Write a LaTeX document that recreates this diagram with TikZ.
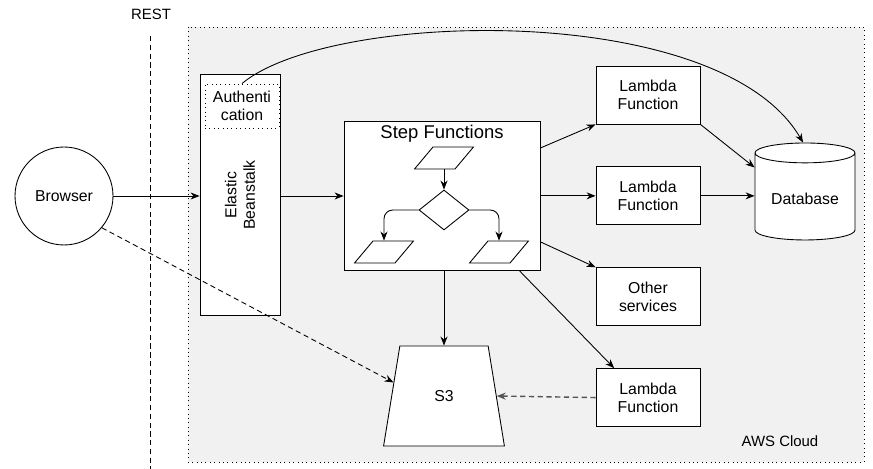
\documentclass[tikz,border=0pt]{standalone}
\usepackage{fontspec}
\setmainfont{Liberation Sans}
\usetikzlibrary{positioning, arrows.meta, shapes.geometric}

\begin{document}
\begin{tikzpicture}[x=0.02cm, y=-0.02cm, line width=0.5pt,
font=\fontsize{9}{10.5}\selectfont,
box/.style={draw, fill=white, minimum width=2.08cm, minimum height=1.16cm, align=center, inner sep=1pt},
para/.style={draw, fill=white, trapezium, trapezium left angle=50, trapezium right angle=130, minimum width=1.18cm, minimum height=0.3cm, inner sep=0.5pt},
arrow/.style={-{Stealth[length=1.8mm, width=1.4mm]}},
dasharrow/.style={arrow, dash pattern=on 3pt off 2pt} ]

% Define colors
\definecolor{cloudgray}{RGB}{241, 241, 241}
\definecolor{dashgray}{RGB}{85, 85, 85}

\useasboundingbox (0,0) rectangle (873,469);

% Cloud area and REST line
\draw[dotted, fill=cloudgray] (188,27) rectangle (864,462);
\node[font=\fontsize{8.5}{10}\selectfont] (cloudlabel) at (780,441) {AWS Cloud};
\node[font=\fontsize{8.5}{10}\selectfont] (rest) at (151,14) {REST};
\draw[dash pattern=on 3pt off 2pt] (150,36) -- (150,469);

% Nodes
\node[circle, draw, fill=white, minimum size=1.96cm] (browser) at (64,196) {Browser};
\node[draw, fill=white, minimum width=1.6cm, minimum height=4.82cm] (eb) at (240,195) {};
\node[rotate=90, align=center] (eblabel) at (240,195) {Elastic\\Beanstalk};
\node[draw, dotted, minimum width=1.48cm, minimum height=0.88cm, align=center, inner sep=0pt] (auth) at (242,106) {Authenti\\cation};

\node[draw, fill=white, minimum width=3.92cm, minimum height=2.98cm] (step) at (442,196) {};
\node[font=\fontsize{10.5}{12}\selectfont] (steptitle) at (442,134) {Step Functions};
\node[para] (ptop) at (444,158) {};
\node[diamond, draw, fill=white, minimum width=1cm, minimum height=0.8cm, inner sep=0pt] (dec) at (444,210) {};
\node[para] (pleft) at (384,252) {};
\node[para] (pright) at (499,252) {};

\node[box] (lam1) at (648,95) {Lambda\\Function};
\node[box, below=0.84cm of lam1] (lam2) {Lambda\\Function};
\node[box, below=0.84cm of lam2] (other) {Other\\services};
\node[box, below=0.84cm of other] (lam3) {Lambda\\Function};

\node[cylinder, draw, fill=white, shape border rotate=90, aspect=0.25, minimum width=2cm, minimum height=1.94cm] (db) at (805,199) {Database};
\node[trapezium, draw, fill=white, trapezium left angle=76, trapezium right angle=76, trapezium stretches=true, minimum width=2.42cm, minimum height=2cm] (s3) at (444,396) {S3};

% Arrows
\draw[arrow] (browser.east) -- (browser.east -| eb.west);
\draw[arrow] (eb.east |- step.west) -- (step.west);
\draw[arrow] (step.26.6) -- (lam1.south west);
\draw[arrow] (step.east |- lam2) -- (lam2.west);
\draw[arrow] (step.-25.6) -- (other.north west);
\draw[arrow] (step.-44) -- (lam3.139);
\draw[arrow] (s3.north |- step.south) -- (s3.north);
\draw[arrow] (lam1.south east) -- (db.148);
\draw[arrow] (lam2.east) -- (lam2.east -| db.west);
\draw[dasharrow, dashgray, line width=0.8pt] (lam3.west) -- (s3.east);
\draw[dasharrow] (browser.-40) -- (s3.165);
\draw[arrow] (auth.north) .. controls (330,10) and (720,0) .. (db.92);

\draw[arrow] (ptop) -- (dec);
\draw[arrow, rounded corners=5pt] (dec.west) -| (pleft);
\draw[arrow, rounded corners=5pt] (dec.east) -| (pright);

\end{tikzpicture}
\end{document}
